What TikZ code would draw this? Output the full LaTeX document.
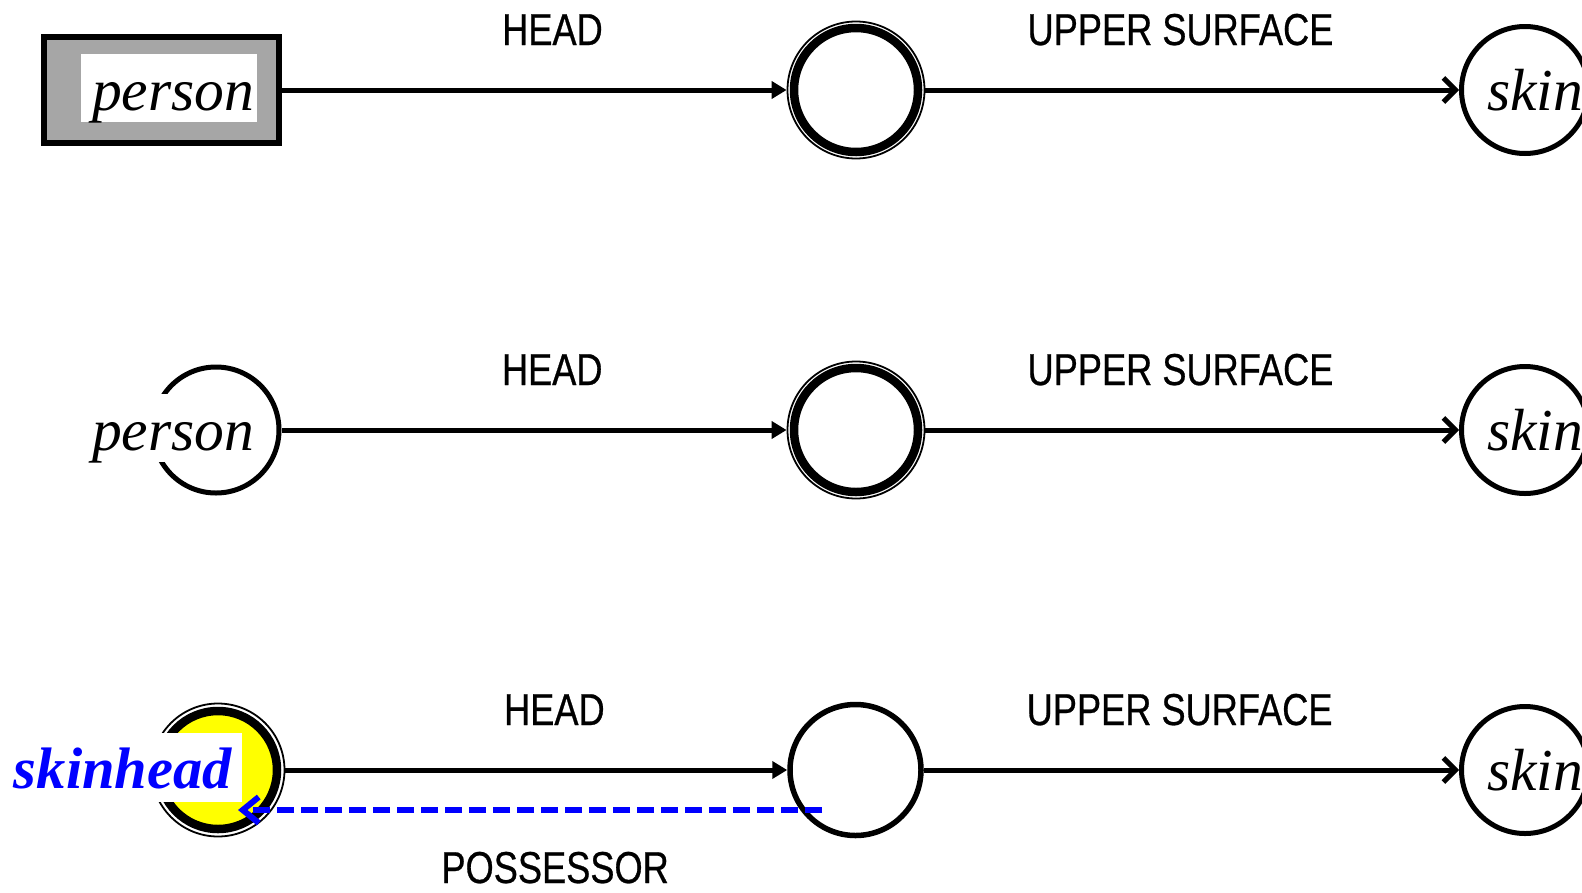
\documentclass[tikz,border=0pt]{standalone}
\usepackage{fontspec}
\setmainfont{Liberation Serif}
\newfontfamily\lblfont[FakeStretch=0.81,FakeBold=0.6]{Liberation Sans}
\usetikzlibrary{arrows.meta}
\definecolor{boxgray}{RGB}{166,166,166}
\definecolor{pureblue}{RGB}{0,0,255}
\definecolor{pureyellow}{RGB}{255,255,0}
\begin{document}
\begin{tikzpicture}[x=1pt,y=-1pt,
  conn/.style={line width=5pt},
  tri/.style={-{Triangle[length=15pt,width=17pt]}},
  barb/.style={-{Straight Barb[length=12pt,width=24pt]}},
  rel/.style={font=\lblfont\fontsize{44.7}{50}\selectfont, anchor=base, inner sep=0pt},
  wordlab/.style={font=\itshape\fontsize{59.5}{60}\selectfont, fill=white, inner xsep=0pt, inner ysep=0pt, text height=56pt, text depth=12pt, anchor=base west},
  skinlab/.style={font=\itshape\fontsize{59.5}{60}\selectfont, inner sep=0pt, anchor=base west},
  pbox/.style={draw, line width=6pt, fill=boxgray, minimum width=235pt, minimum height=106pt, inner sep=0pt},
  arcnode/.style={circle, draw, line width=5pt, minimum size=126pt, inner sep=0pt},
  outerring/.style={circle, draw, line width=1.8pt, minimum size=137pt, inner sep=0pt},
  plaincirc/.style={circle, draw, line width=5.5pt, minimum size=131pt, inner sep=0pt},
  skincirc/.style={circle, draw, line width=5pt, minimum size=127pt, inner sep=0pt},
  yelouter/.style={circle, draw, line width=1.8pt, minimum size=133pt, inner sep=0pt},
  poss/.style={draw=pureblue, line width=6pt, dash pattern=on 17pt off 7pt, -{Straight Barb[length=16pt,width=26pt]}}
]
\useasboundingbox (0,0) rectangle (1582,892);

% ---------- Row 1 ----------
\node[pbox] (p1) at (161.5,90) {};
\node[wordlab] (w1) at (81,110) {\hspace*{11pt}person\hspace*{3pt}};
\node[outerring] (h1) at (856,90) {};
\draw[line width=8.5pt] (h1.center) circle[radius=62pt];
\node[skincirc] (s1) at (1525,90) {};
\node[skinlab] (t1) at (1487,110) {skin};
\draw[conn,tri] (p1) -- (h1) node[rel,pos=.536,yshift=45pt] (e1) {HEAD};
\draw[conn,barb] (h1) -- (s1) node[rel,pos=.478,yshift=45pt] (f1) {UPPER SURFACE};

% ---------- Row 2 ----------
\node[arcnode] (p2) at (216,430) {};
\node[wordlab] (w2) at (81,450) {\hspace*{11pt}person\hspace*{3pt}};
\node[outerring] (h2) at (856,430) {};
\draw[line width=8.5pt] (h2.center) circle[radius=62pt];
\node[skincirc] (s2) at (1525,430) {};
\node[skinlab] (t2) at (1487,450) {skin};
\draw[conn,tri] (p2) -- (h2) node[rel,pos=.536,yshift=45pt] (e2) {HEAD};
\draw[conn,barb] (h2) -- (s2) node[rel,pos=.478,yshift=45pt] (f2) {UPPER SURFACE};

% ---------- Row 3 ----------
\node[yelouter] (p3) at (218,770) {};
\draw[line width=8.5pt, fill=pureyellow] (p3.center) circle[radius=59pt];
\node[wordlab, font=\bfseries\itshape\fontsize{58.5}{60}\selectfont, text=pureblue, inner xsep=10pt, text height=55pt, text depth=14pt, anchor=base east] (w3) at (242,788) {skinhead};
\node[plaincirc] (h3) at (855.5,770) {};
\node[skincirc] (s3) at (1525,770) {};
\node[skinlab] (t3) at (1487,790) {skin};
\draw[conn,tri] (p3) -- (h3) node[rel,pos=.536,yshift=45pt] (e3) {HEAD};
\draw[conn,barb] (h3) -- (s3) node[rel,pos=.478,yshift=45pt] (f3) {UPPER SURFACE};

\coordinate (pstart) at (822,810);
\coordinate (pend) at (238,810);
\draw[poss] (pstart) -- (pend) node[rel,pos=.457,yshift=-73pt] (g3) {POSSESSOR};
\end{tikzpicture}
\end{document}
